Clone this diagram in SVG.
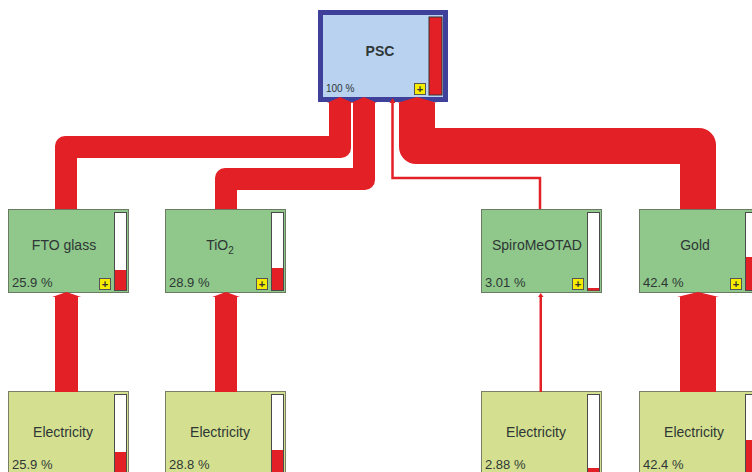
<svg xmlns="http://www.w3.org/2000/svg" width="752" height="472" viewBox="0 0 752 472">
<defs>
<style>
.lbl{font-family:"Liberation Sans",Arial,sans-serif;font-size:14px;fill:#2e3636;text-anchor:middle}
.pct{font-family:"Liberation Sans",Arial,sans-serif;font-size:13px;fill:#2e3636}
.mid{fill:#8fc88a;stroke:#6b7a63;stroke-width:1}
.elec{fill:#d4e08f;stroke:#7a7f66;stroke-width:1}
.bar{fill:#ffffff;stroke:#4a4a4a;stroke-width:1}
.fillr{fill:#e42027}
.plus{fill:#f6ec00;stroke:#555;stroke-width:1}
.pt{font-family:"Liberation Sans",Arial,sans-serif;font-size:11px;font-weight:bold;fill:#333;text-anchor:middle}
.flow{fill:#e42027}
</style>
</defs>
<rect width="752" height="472" fill="#ffffff"/>

<g id="PSC">
<rect x="318" y="10" width="130" height="92" fill="#3e409a"/>
<rect x="323" y="15" width="120" height="82" fill="#b8d2ef"/>
<rect x="429" y="17" width="13" height="78" fill="#e42027" stroke="#333" stroke-width="1"/>
<text x="380" y="56" font-family="Liberation Sans,Arial,sans-serif" font-size="14" font-weight="bold" fill="#2e3636" text-anchor="middle">PSC</text>
<text x="326" y="92" font-family="Liberation Sans,Arial,sans-serif" font-size="10" fill="#2e3636">100 %</text>
<rect class="plus" x="414.5" y="83.5" width="11" height="11"/>
<text class="pt" x="420" y="93">+</text>
</g>

<g id="FTO">
<rect class="mid" x="8.5" y="209.5" width="120" height="83"/>
<rect class="bar" x="114.5" y="212.5" width="12" height="78"/>
<rect class="fillr" x="115" y="270" width="11" height="20"/>
<text class="lbl" x="64" y="250">FTO glass</text>
<text class="pct" x="12" y="287">25.9 %</text>
<rect class="plus" x="99.5" y="278.5" width="11" height="11"/>
<text class="pt" x="105" y="288">+</text>
</g>

<g id="TiO2">
<rect class="mid" x="165.5" y="209.5" width="120" height="83"/>
<rect class="bar" x="271.5" y="212.5" width="12" height="78"/>
<rect class="fillr" x="272" y="268" width="11" height="22"/>
<text class="lbl" x="220" y="250">TiO<tspan font-size="10" dy="4">2</tspan></text>
<text class="pct" x="169" y="287">28.9 %</text>
<rect class="plus" x="256.5" y="278.5" width="11" height="11"/>
<text class="pt" x="262" y="288">+</text>
</g>

<g id="Spiro">
<rect class="mid" x="481.5" y="209.5" width="120" height="83"/>
<rect class="bar" x="587.5" y="212.5" width="12" height="78"/>
<rect class="fillr" x="588" y="288" width="11" height="2.5"/>
<text class="lbl" x="537" y="250">SpiroMeOTAD</text>
<text class="pct" x="485" y="287">3.01 %</text>
<rect class="plus" x="572.5" y="278.5" width="11" height="11"/>
<text class="pt" x="578" y="288">+</text>
</g>

<g id="Gold">
<rect class="mid" x="639.5" y="209.5" width="120" height="83"/>
<rect class="bar" x="745.5" y="212.5" width="12" height="78"/>
<rect class="fillr" x="746" y="257" width="11" height="33"/>
<text class="lbl" x="695" y="250">Gold</text>
<text class="pct" x="643" y="287">42.4 %</text>
<rect class="plus" x="730.5" y="278.5" width="11" height="11"/>
<text class="pt" x="736" y="288">+</text>
</g>

<g id="Elec1">
<rect class="elec" x="8.5" y="391.5" width="120" height="83"/>
<rect class="bar" x="114.5" y="394.5" width="12" height="78"/>
<rect class="fillr" x="115" y="452" width="11" height="21"/>
<text class="lbl" x="63" y="437">Electricity</text>
<text class="pct" x="12" y="469">25.9 %</text>
</g>

<g id="Elec2">
<rect class="elec" x="165.5" y="391.5" width="120" height="83"/>
<rect class="bar" x="271.5" y="394.5" width="12" height="78"/>
<rect class="fillr" x="272" y="450" width="11" height="23"/>
<text class="lbl" x="220" y="437">Electricity</text>
<text class="pct" x="169" y="469">28.8 %</text>
</g>

<g id="Elec3">
<rect class="elec" x="481.5" y="391.5" width="120" height="83"/>
<rect class="bar" x="587.5" y="394.5" width="12" height="78"/>
<rect class="fillr" x="588" y="468" width="11" height="5"/>
<text class="lbl" x="536" y="437">Electricity</text>
<text class="pct" x="485" y="469">2.88 %</text>
</g>

<g id="Elec4">
<rect class="elec" x="639.5" y="391.5" width="120" height="83"/>
<rect class="bar" x="745.5" y="394.5" width="12" height="78"/>
<rect class="fillr" x="746" y="440" width="11" height="33"/>
<text class="lbl" x="694" y="437">Electricity</text>
<text class="pct" x="643" y="469">42.4 %</text>
</g>

<g id="connectors">
<path class="flow" d="M329,103 H351 V148 A10,10 0 0 1 341,158 H77 V209 H55 V146 A10,10 0 0 1 65,136 H329 Z"/>
<polygon class="flow" points="327,103 340,97 353,103"/>
<path class="flow" d="M353,103 H375 V180 A10,10 0 0 1 365,190 H237 V209 H215 V178 A10,10 0 0 1 225,168 H353 Z"/>
<polygon class="flow" points="351,103 364,97 377,103"/>
<path class="flow" d="M399,103 H435 V128 H699 A17,17 0 0 1 716,145 V209 H680 V164 H416 A17,17 0 0 1 399,147 Z"/>
<polygon class="flow" points="397,103 417,97 437,103"/>
<path d="M392.5,101 V178 H540 V209" fill="none" stroke="#e42027" stroke-width="2.5"/>
<polygon class="flow" points="389.5,103 392.5,98 395.5,103"/>

<rect class="flow" x="55" y="297" width="23" height="95"/>
<polygon class="flow" points="52,297 66.5,292 81,297"/>
<rect class="flow" x="215" y="297" width="22" height="95"/>
<polygon class="flow" points="212,297 226,292 240,297"/>
<rect class="flow" x="539.5" y="296" width="2.5" height="96"/>
<polygon class="flow" points="538,297 540.75,293 543.5,297"/>
<rect class="flow" x="680" y="297" width="36" height="95"/>
<polygon class="flow" points="677,297 698,292 719,297"/>
</g>
</svg>
